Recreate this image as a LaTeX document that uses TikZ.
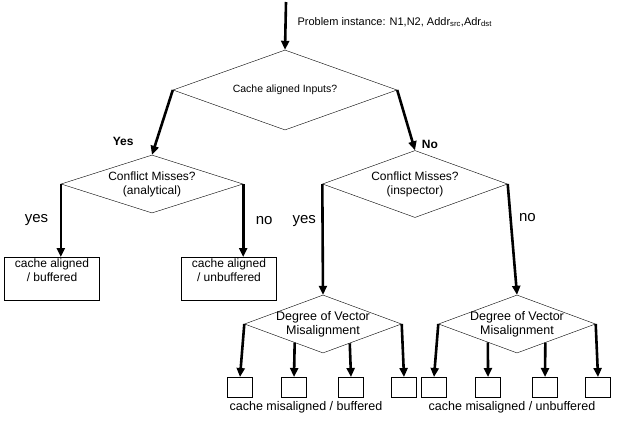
\documentclass[tikz,border=0pt]{standalone}
\usepackage{fontspec}
\setmainfont{Liberation Sans}
\usetikzlibrary{shapes,arrows.meta,positioning,calc}

\begin{document}
\begin{tikzpicture}[x=1pt,y=-1pt,
        decision/.style={diamond, draw, thin, inner sep=0pt},
        dtext/.style={align=center, inner sep=0pt},
        outcome/.style={rectangle, draw, thin, minimum width=95pt, minimum height=43pt, anchor=north},
        otext/.style={align=center, inner sep=0pt, anchor=north, font=\fontsize{12}{14}\selectfont},
        leaf/.style={rectangle, draw, thin, minimum width=25pt, minimum height=20pt, anchor=north},
        flow/.style={line width=2.6pt, -{Triangle[length=9pt,width=8pt]}},
        branch/.style={font=\fontsize{15}{17}\selectfont},
        bigbranch/.style={font=\fontsize{12}{14}\selectfont\bfseries}]
        \useasboundingbox (0,0) rectangle (639,426);

        % Entry point
        \coordinate (start) at (286,2);
        \node[anchor=west, font=\fontsize{11}{13}\selectfont] (inst) at (294,22)
            {Problem instance: N1,N2, Addr\textsubscript{src},Adr\textsubscript{dst}};

        % First decision
        \node[decision, minimum width=224pt, minimum height=80pt] (aligned) at (285,90) {};
        \node[dtext, font=\fontsize{10.5}{12}\selectfont] (alignedt) at (aligned) {Cache aligned Inputs?};

        % Aligned side - analytical
        \node[decision, minimum width=182pt, minimum height=58pt] (anal) at (152,184) {};
        \node[dtext, font=\fontsize{12}{14}\selectfont] (analt) at (anal) {Conflict Misses?\\(analytical)};

        % Misaligned side - inspector
        \node[decision, minimum width=185pt, minimum height=67pt] (insp) at (415,184) {};
        \node[dtext, font=\fontsize{12}{14}\selectfont] (inspt) at (insp) {Conflict Misses?\\(inspector)};

        % Cache aligned outcomes
        \node[outcome] (albuf) at (52,257) {};
        \node[otext] (albuft) at ([yshift=-2pt]albuf.north) {cache aligned\\/ buffered};
        \node[outcome] (alunbuf) at (229,257) {};
        \node[otext] (alunbuft) at ([yshift=-2pt]alunbuf.north) {cache aligned\\/ unbuffered};

        % Degree of misalignment
        \node[decision, minimum width=157pt, minimum height=58pt] (degbuf) at (323,324) {};
        \node[dtext, font=\fontsize{12.5}{14}\selectfont] (degbuft) at (degbuf) {Degree of Vector\\Misalignment};
        \node[decision, minimum width=157pt, minimum height=58pt] (degunbuf) at (517,324) {};
        \node[dtext, font=\fontsize{12.5}{14}\selectfont] (degunbuft) at (degunbuf) {Degree of Vector\\Misalignment};

        % Leaves
        \node[leaf] (b1) at (240,377) {};
        \node[leaf] (b2) at (294,377) {};
        \node[leaf] (b3) at (351,377) {};
        \node[leaf] (b4) at (404,377) {};
        \node[leaf] (u1) at (434,377) {};
        \node[leaf] (u2) at (488,377) {};
        \node[leaf] (u3) at (545,377) {};
        \node[leaf] (u4) at (598,377) {};
        \node[font=\fontsize{12.5}{14}\selectfont] (misbuf) at (306,407) {cache misaligned / buffered};
        \node[font=\fontsize{12.5}{14}\selectfont] (misunbuf) at (512,407) {cache misaligned / unbuffered};

        % Connectors
        \draw[flow] (start) -- (aligned.north);
        \draw[flow] (aligned.west) -- (anal.north) node[bigbranch, pos=0.8, left=18pt] {Yes};
        \draw[flow] (aligned.east) -- (insp.north) node[bigbranch, pos=0.9, right=4pt] {No};
        \draw[flow] (anal.west) -- (anal.west |- albuf.north) node[branch, midway, left=8pt] {yes};
        \draw[flow] (anal.east) -- (anal.east |- alunbuf.north) node[branch, midway, right=8pt] {no};
        \draw[flow] (insp.west) -- (degbuf.north) node[branch, pos=0.33, left=2pt] {yes};
        \draw[flow] (insp.east) -- (degunbuf.north) node[branch, pos=0.3, right=4pt] {no};

        \draw[flow] (degbuf.west) -- (b1.north);
        \draw[flow] ($(degbuf.west)!0.64!(degbuf.south)$) -- (b2.north);
        \draw[flow] ($(degbuf.east)!0.66!(degbuf.south)$) -- (b3.north);
        \draw[flow] (degbuf.east) -- (b4.north);
        \draw[flow] (degunbuf.west) -- (u1.north);
        \draw[flow] ($(degunbuf.west)!0.63!(degunbuf.south)$) -- (u2.north);
        \draw[flow] ($(degunbuf.east)!0.64!(degunbuf.south)$) -- (u3.north);
        \draw[flow] (degunbuf.east) -- (u4.north);
    \end{tikzpicture}
\end{document}
